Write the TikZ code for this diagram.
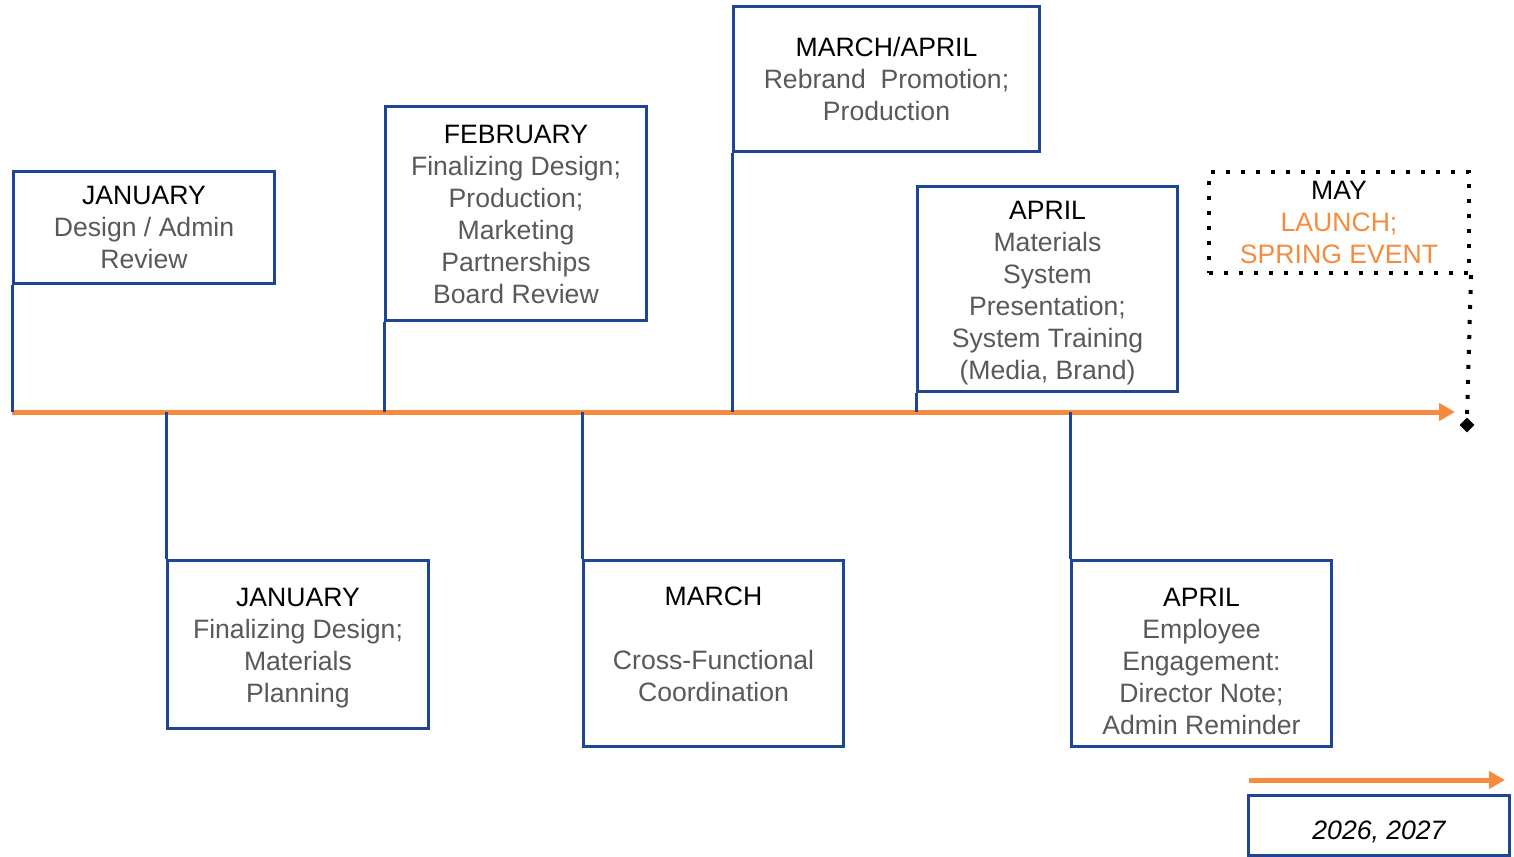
\documentclass[tikz,border=0pt]{standalone}
\usepackage{fontspec}
\setmainfont{Liberation Sans}
\usetikzlibrary{arrows.meta,shapes.geometric}
\definecolor{tlblue}{HTML}{1F4694}
\definecolor{tlorange}{HTML}{F68B3D}
\definecolor{tlgray}{HTML}{595959}
\tikzset{
  monthbox/.style={draw=tlblue, line width=1.5pt, fill=white, anchor=north west,
    align=center, inner sep=0pt, font=\fontsize{13.3}{16}\selectfont},
  maybox/.style={draw=black, line width=2pt, dash pattern=on 2pt off 5.5pt,
    anchor=north west, align=center, inner sep=0pt, font=\fontsize{13.3}{16}\selectfont},
  tick/.style={draw=tlblue, line width=1.5pt},
  axisline/.style={draw=tlorange, line width=2.5pt, -{Triangle[length=8pt,width=8.5pt]}}
}
\newcommand{\gr}[1]{\textcolor{tlgray}{#1}}
% push the text of a box down / up a little
\newcommand{\lift}[1]{\rule{0pt}{#1}}
\newcommand{\sink}[1]{\rule[-#1]{0pt}{#1}}
\begin{document}
\begin{tikzpicture}[x=0.5pt, y=-0.5pt]
        \useasboundingbox (0,0) rectangle (1514,856);

        % timeline
        \coordinate (t0) at (12,412);
        \coordinate (t1) at (1455,412);
        \draw[axisline] (t0) -- (t1);

        % above the line
        \node[monthbox, minimum width=130.5pt, minimum height=56pt] (jan1) at (12,170)
            {JANUARY\\ \gr{Design / Admin}\\ \gr{Review}};
        \node[monthbox, minimum width=130.5pt, minimum height=107pt] (feb) at (384,105)
            {\lift{10.5pt}FEBRUARY\\ \gr{Finalizing Design;}\\ \gr{Production;}\\ \gr{Marketing}\\ \gr{Partnerships}\\ \gr{Board Review}};
        \node[monthbox, minimum width=153pt, minimum height=72.5pt] (marapr) at (732,5)
            {MARCH/APRIL\\ \gr{Rebrand~ Promotion;}\\ \gr{Production}};
        \node[monthbox, minimum width=130pt, minimum height=102.5pt] (apr1) at (916,185)
            {\lift{13.5pt}APRIL\\ \gr{Materials}\\ \gr{System}\\ \gr{Presentation;}\\ \gr{System Training}\\ \gr{(Media, Brand)}};
        \node[maybox, minimum width=130pt, minimum height=50.5pt] (may) at (1207,170)
            {MAY\\ \textcolor{tlorange}{LAUNCH;}\\ \textcolor{tlorange}{SPRING EVENT}};

        % below the line
        \node[monthbox, minimum width=130.5pt, minimum height=84pt] (jan2) at (166,559)
            {\lift{12.5pt}JANUARY\\ \gr{Finalizing Design;}\\ \gr{Materials}\\ \gr{Planning}};
        \node[monthbox, minimum width=130pt, minimum height=93pt] (mar) at (582,559)
            {MARCH\\[16pt] \gr{Cross-Functional}\\ \gr{Coordination}\sink{9pt}};
        \node[monthbox, minimum width=130pt, minimum height=93pt] (apr2) at (1070,559)
            {\lift{17.5pt}APRIL\\ \gr{Employee}\\ \gr{Engagement:}\\ \gr{Director Note;}\\ \gr{Admin Reminder}};

        % drops to the timeline
        \foreach \b in {jan1, feb, marapr, apr1}
            \draw[tick] (\b.south west) -- (\b.south west |- t0);
        \foreach \b in {jan2, mar, apr2}
            \draw[tick] (\b.north west) -- (\b.north west |- t0);

        \node[diamond, fill=black, inner sep=0pt, minimum size=7.5pt] (endmark) at (1467,425) {};
        \draw[line width=2pt, dash pattern=on 2pt off 5.5pt] (may.south east) -- (endmark.north);

        % legend
        \coordinate (k0) at (1249,780);
        \coordinate (k1) at (1505,780);
        \draw[axisline] (k0) -- (k1);
        \node[monthbox, minimum width=130.5pt, minimum height=30pt] (years) at (1247,794)
            {\lift{15.5pt}\itshape 2026, 2027};
    \end{tikzpicture}
\end{document}
